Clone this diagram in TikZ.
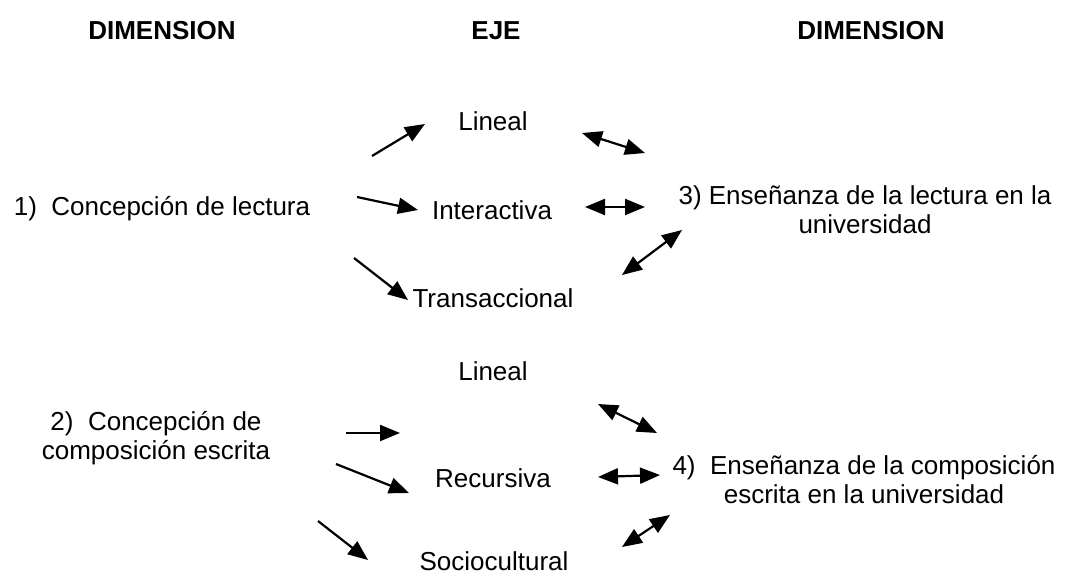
\documentclass[tikz,border=0pt]{standalone}
\usepackage{fontspec}
\setmainfont{Liberation Sans}
\usetikzlibrary{arrows.meta}
\tikzset{
  lbl/.style={inner sep=0pt, font=\fontsize{26}{29}\selectfont, align=center},
  hdr/.style={lbl, font=\fontsize{26}{29}\selectfont\bfseries},
  arr/.style={line width=2.2pt, -{Triangle[length=20pt,width=16pt]}},
  darr/.style={line width=2.2pt, {Triangle[length=20pt,width=16pt]}-{Triangle[length=20pt,width=16pt]}}
}
\begin{document}
\begin{tikzpicture}[x=1pt,y=-1pt]
\useasboundingbox[fill=white] (0,0) rectangle (1066,578);
% headers
\node[hdr] (h1) at (162,31) {DIMENSION};
\node[hdr] (h2) at (496,31) {EJE};
\node[hdr] (h3) at (871,31) {DIMENSION};
% first block
\node[lbl] (d1) at (162,209) {1)\ \ Concepción de lectura};
\node[lbl] (e1) at (493,121) {Lineal};
\node[lbl] (e2) at (492,210) {Interactiva};
\node[lbl] (e3) at (493,298) {Transaccional};
\node[lbl] (d3) at (865,210) {3) Enseñanza de la lectura en la\\universidad};
% second block
\node[lbl] (d2) at (156,438) {2)\ \ Concepción de\\composición escrita};
\node[lbl] (f1) at (493,371) {Lineal};
\node[lbl] (f2) at (493,478) {Recursiva};
\node[lbl] (f3) at (494,561) {Sociocultural};
\node[lbl] (d4) at (864,480) {4)\ \ Enseñanza de la composición\\escrita en la universidad};
% arrow end points
\coordinate (a1s) at (372,156); \coordinate (a1e) at (425,124);
\coordinate (a2s) at (357,197); \coordinate (a2e) at (418,210);
\coordinate (a3s) at (354,258); \coordinate (a3e) at (408,300);
\coordinate (b1s) at (582,133); \coordinate (b1e) at (645,153);
\coordinate (b2s) at (585,207); \coordinate (b2e) at (645,207);
\coordinate (b3s) at (622,275); \coordinate (b3e) at (682,230);
\coordinate (c1s) at (346,433); \coordinate (c1e) at (400,433);
\coordinate (c2s) at (336,464); \coordinate (c2e) at (409,493);
\coordinate (c3s) at (318,521); \coordinate (c3e) at (368,560);
\coordinate (g1s) at (598,404); \coordinate (g1e) at (657,433);
\coordinate (g2s) at (598,477); \coordinate (g2e) at (660,475);
\coordinate (g3s) at (622,547); \coordinate (g3e) at (670,515);
% arrows
\draw[arr] (a1s) -- (a1e);
\draw[arr] (a2s) -- (a2e);
\draw[arr] (a3s) -- (a3e);
\draw[darr] (b1s) -- (b1e);
\draw[darr] (b2s) -- (b2e);
\draw[darr] (b3s) -- (b3e);
\draw[arr] (c1s) -- (c1e);
\draw[arr] (c2s) -- (c2e);
\draw[arr] (c3s) -- (c3e);
\draw[darr] (g1s) -- (g1e);
\draw[darr] (g2s) -- (g2e);
\draw[darr] (g3s) -- (g3e);
\end{tikzpicture}
\end{document}
